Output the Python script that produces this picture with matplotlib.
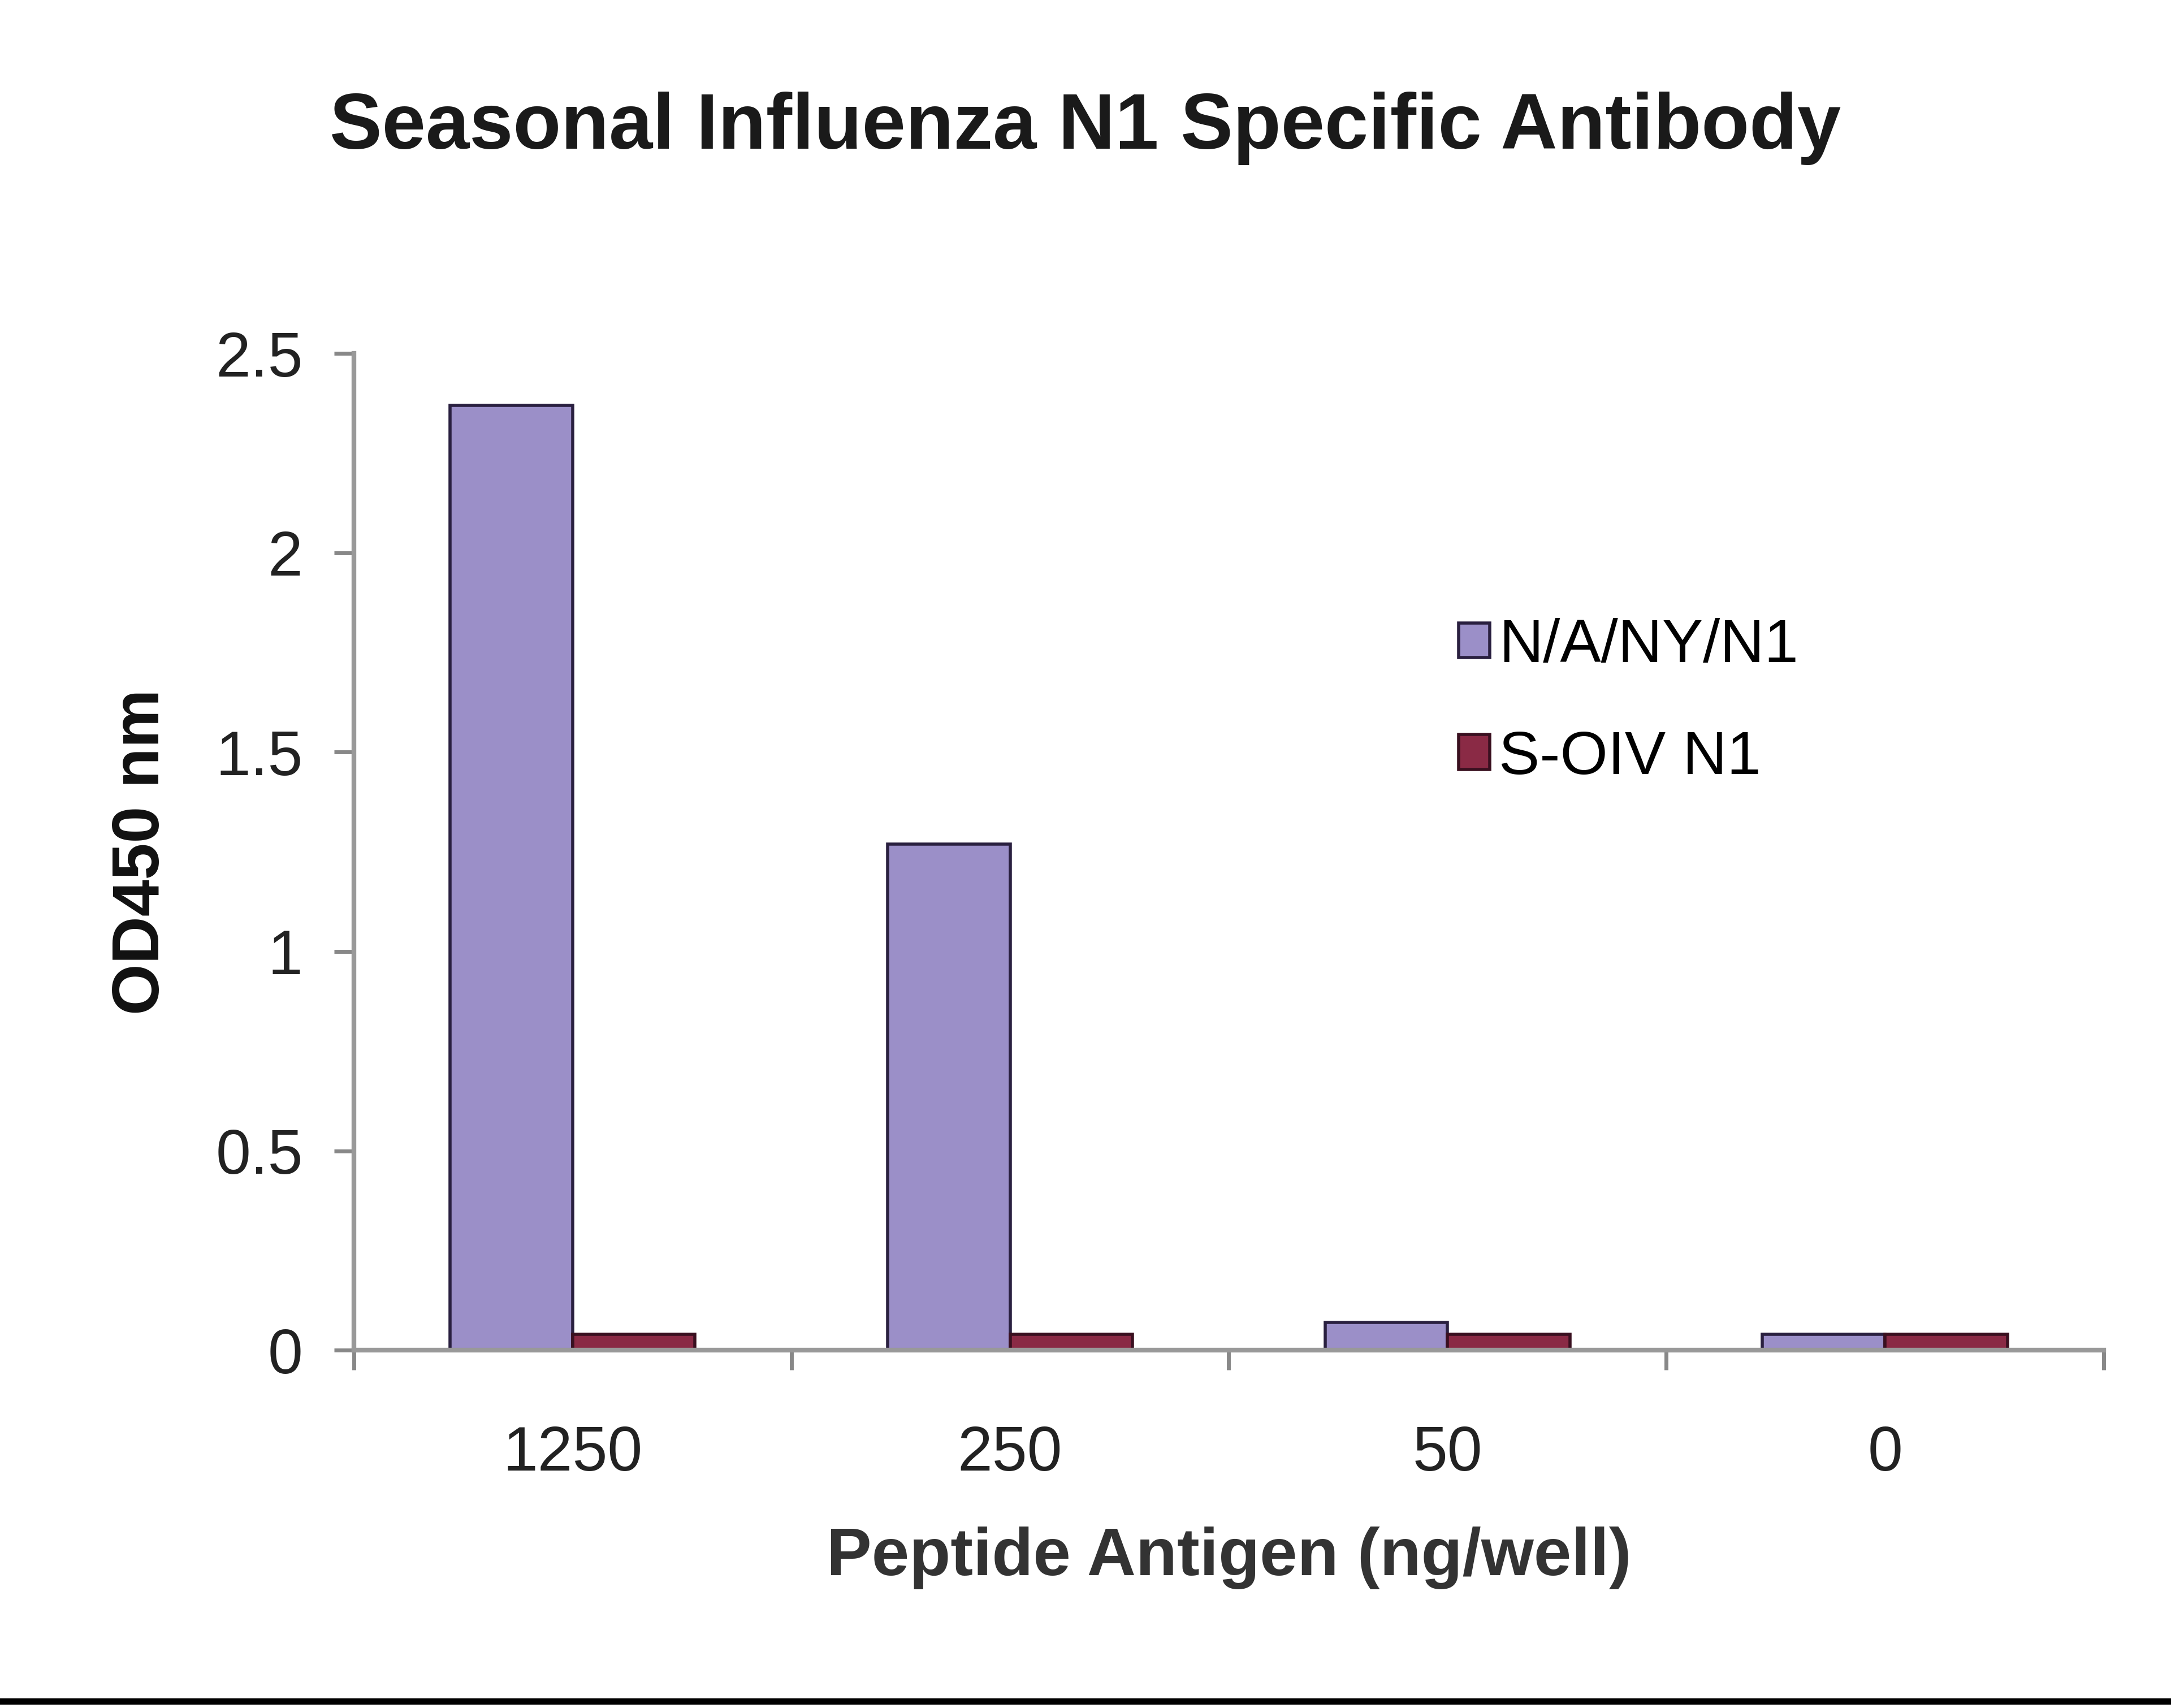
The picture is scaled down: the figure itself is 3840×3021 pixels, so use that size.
import matplotlib
matplotlib.use("Agg")
import matplotlib.pyplot as plt
import numpy as np

plt.rcParams['font.family'] = ['Liberation Sans', 'DejaVu Sans']

categories = ["1250", "250", "50", "0"]
series_names = ["N/A/NY/N1", "S-OIV N1"]
seasonal_n1 = [2.37, 1.27, 0.07, 0.04]
soiv_n1 = [0.04, 0.04, 0.04, 0.04]
yticks = [0, 0.5, 1, 1.5, 2, 2.5]
ytick_labels = ["0", "0.5", "1", "1.5", "2", "2.5"]

fig = plt.figure(figsize=(38.4, 30.21), dpi=100)
ax = fig.add_axes([0.163, 0.2095, 0.806, 0.5835])

x = np.arange(len(categories))
w = 0.28
ax.bar(x - w / 2, seasonal_n1, w, color="#9b8fc8", edgecolor="#2a2040", linewidth=4, label=series_names[0])
ax.bar(x + w / 2, soiv_n1, w, color="#8a2a45", edgecolor="#3a1020", linewidth=4, label=series_names[1])

ax.set_xlim(-0.5, len(categories) - 0.5)
ax.set_ylim(0, 2.5)
ax.set_yticks(yticks)
ax.set_yticklabels(ytick_labels)
ax.set_xticks(x)
ax.set_xticklabels(categories)
ax.set_xticks(np.arange(len(categories) + 1) - 0.5, minor=True)
ax.tick_params(axis='x', which='major', length=0, pad=95, labelsize=80, colors="#222222")
ax.tick_params(axis='x', which='minor', length=25, width=5, direction='out', color="#888888")
ax.tick_params(axis='y', which='major', length=25, width=5, direction='out', pad=40, labelsize=80, colors="#222222")
ax.tick_params(axis='y', color="#888888")

for s in ["top", "right"]:
    ax.spines[s].set_visible(False)
for s in ["left", "bottom"]:
    ax.spines[s].set_color("#999999")
    ax.spines[s].set_linewidth(6)

ax.set_ylabel("OD450 nm", fontsize=84, fontweight="bold", labelpad=55, color="#111111")
ax.set_xlabel("Peptide Antigen (ng/well)", fontsize=86, fontweight="bold", labelpad=55, color="#333333")

fig.text(0.5, 0.925, "Seasonal Influenza N1 Specific Antibody", ha="center", va="center",
         fontsize=100, fontweight="bold", color="#1a1a1a")

leg = ax.legend(loc="upper left", bbox_to_anchor=(0.6, 0.79), frameon=False, fontsize=78,
                handlelength=0.5, handleheight=0.5, handletextpad=0.15, labelspacing=0.9)

fig.add_artist(plt.Line2D([0, 1], [0.004, 0.004], color="black", linewidth=8, transform=fig.transFigure))

fig.savefig("out.png", dpi=100, facecolor="white")
